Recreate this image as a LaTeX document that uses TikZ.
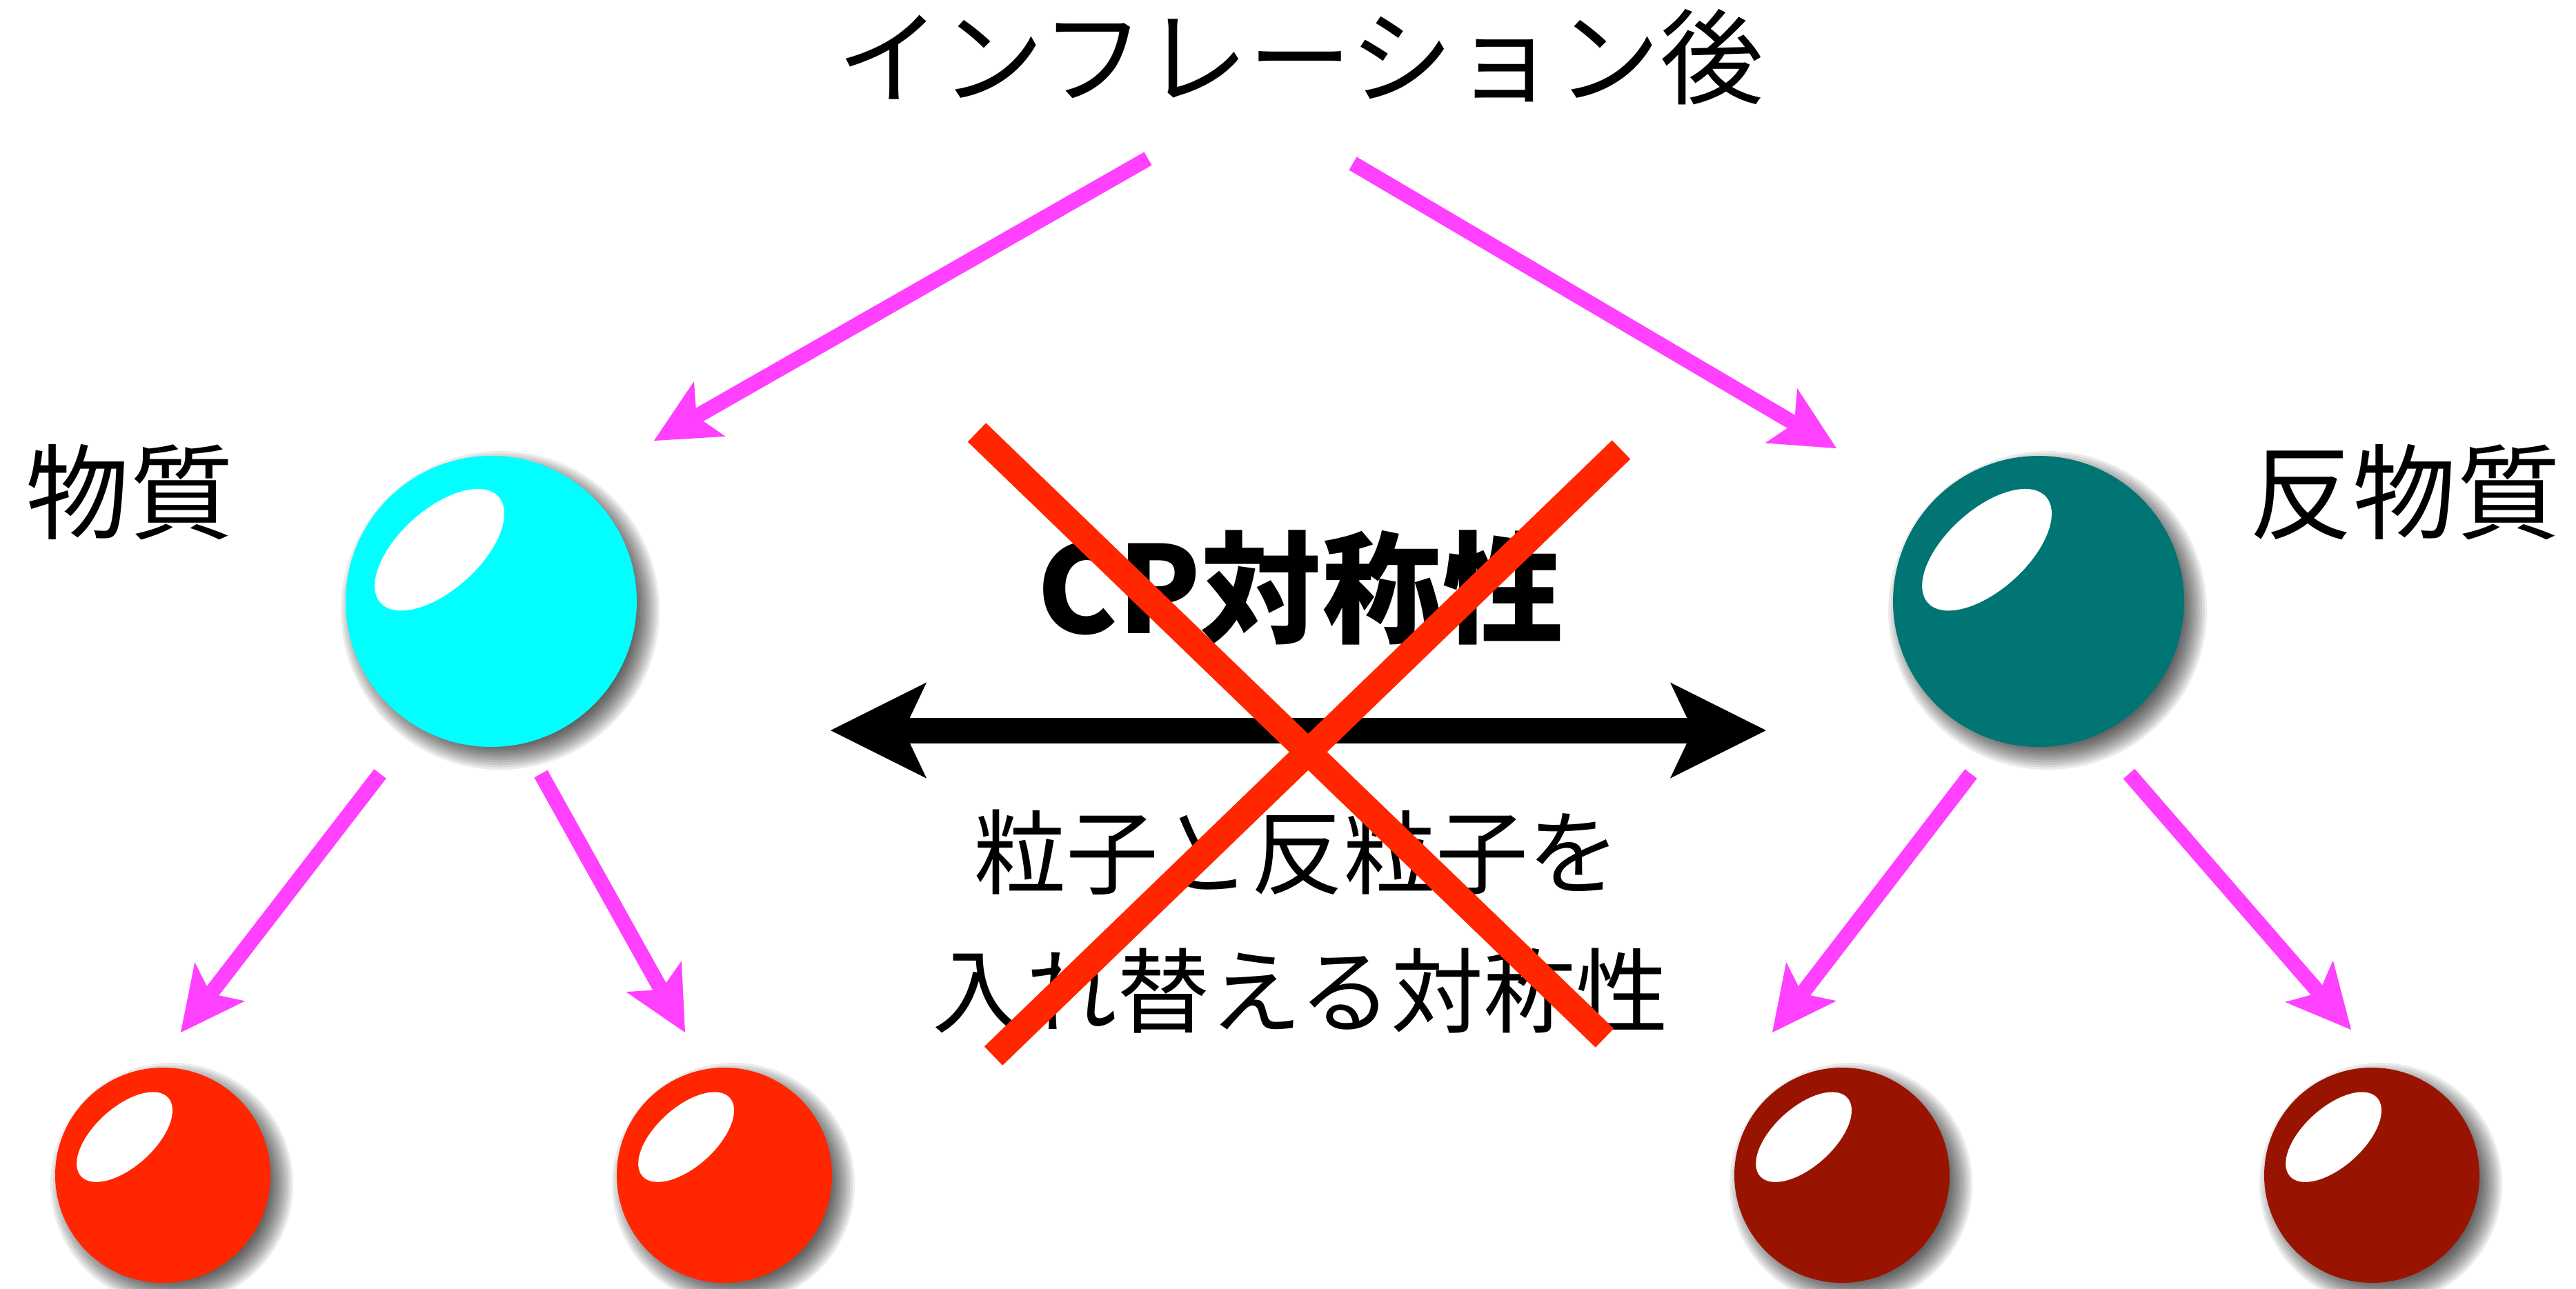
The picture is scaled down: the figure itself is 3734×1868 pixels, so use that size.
\documentclass[tikz,border=0pt]{standalone}
\usepackage{fontspec}
\usetikzlibrary{arrows.meta}
\newfontfamily\jpfont{Noto Sans CJK JP}

\definecolor{arrowpink}{HTML}{FF40FF}
\definecolor{crossred}{HTML}{FF2600}
\definecolor{matterball}{HTML}{00FFFF}
\definecolor{antiball}{HTML}{007573}
\definecolor{redball}{HTML}{FF2600}
\definecolor{darkball}{HTML}{991400}

% glossy ball: #1 name, #2 x, #3 y, #4 radius, #5 colour (pixel units)
\newcommand\glossyball[5]{%
  \foreach \k in {0,...,11}
    \fill[black, opacity=0.08] (#2+13,#3+13) circle[radius={#4+20-3.5*\k}];
  \node[circle, inner sep=0pt, minimum size={2*#4*0.01cm}, fill=#5] (#1) at (#2,#3) {};
  \coordinate (#1hl) at ([shift={(-0.355*#4,-0.355*#4)}]#1.center);
  \fill[white, rotate around={42:(#1hl)}] (#1hl) ellipse[x radius={0.545*#4}, y radius={0.275*#4}];
}

\begin{document}
\begin{tikzpicture}[x=0.01cm, y=-0.01cm,
  flow/.style={draw=arrowpink, line width=0.22cm,
    -{Stealth[length=0.93cm, width=0.92cm, inset=0.22cm, line width=0pt]}},
  swaparrow/.style={draw=black, line width=0.37cm,
    {Stealth[length=1.39cm, width=1.39cm, inset=0.33cm, line width=0pt]}-{Stealth[length=1.39cm, width=1.39cm, inset=0.33cm, line width=0pt]}},
  veto/.style={draw=crossred, line width=0.38cm},
  lbl/.style={inner sep=0pt, font=\jpfont\fontsize{42.7}{50}\selectfont},
  desc/.style={inner sep=0pt, font=\jpfont\fontsize{38.1}{46}\selectfont},
  headline/.style={inner sep=0pt, font=\jpfont\bfseries\fontsize{49.8}{58}\selectfont}]

\useasboundingbox (0,0) rectangle (3734,1868);
\fill[white] (0,0) rectangle (3734,1868);

% balls
\glossyball{matter}{712}{872}{211}{matterball}
\glossyball{anti}{2955}{872}{211}{antiball}
\glossyball{ma}{236}{1704}{156}{redball}
\glossyball{mb}{1050}{1704}{156}{redball}
\glossyball{aa}{2670}{1704}{156}{darkball}
\glossyball{ab}{3438}{1704}{156}{darkball}

% labels
\node[lbl] (title) at (1885,83) {インフレーション後};
\node[lbl] (matterlbl) at (188,714) {物質};
\node[lbl] (antilbl) at (3486,714) {反物質};
\node[headline] (cp) at (1885,852) {CP対称性};
\node[desc] (desc1) at (1880,1236) {粒子と反粒子を};
\node[desc] (desc2) at (1885,1437) {入れ替える対称性};

% arrow end points
\coordinate (tl0) at (1664,230);  \coordinate (tl1) at (948,639);
\coordinate (tr0) at (1961,237);  \coordinate (tr1) at (2662,650);
\coordinate (ml0) at (551,1122);  \coordinate (ml1) at (262,1497);
\coordinate (mr0) at (784,1122);  \coordinate (mr1) at (993,1497);
\coordinate (al0) at (2857,1122); \coordinate (al1) at (2569,1497);
\coordinate (ar0) at (3086,1122); \coordinate (ar1) at (3408,1493);
\coordinate (sw0) at (1204,1059); \coordinate (sw1) at (2560,1059);
\coordinate (xa0) at (1416,627);  \coordinate (xa1) at (2326,1505);
\coordinate (xb0) at (2350,652);  \coordinate (xb1) at (1440,1531);

% pink arrows
\draw[flow] (tl0) -- (tl1);
\draw[flow] (tr0) -- (tr1);
\draw[flow] (ml0) -- (ml1);
\draw[flow] (mr0) -- (mr1);
\draw[flow] (al0) -- (al1);
\draw[flow] (ar0) -- (ar1);

% particle/antiparticle exchange
\draw[swaparrow] (sw0) -- (sw1);

% red cross
\draw[veto] (xa0) -- (xa1);
\draw[veto] (xb0) -- (xb1);

\end{tikzpicture}
\end{document}
